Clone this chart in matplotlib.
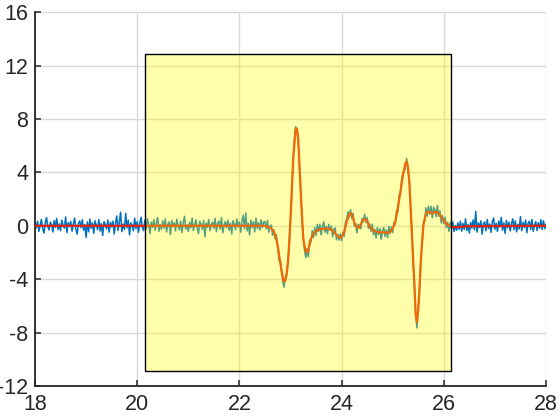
import numpy as np
import matplotlib
matplotlib.use("Agg")
import matplotlib.pyplot as plt
from matplotlib.patches import Rectangle

# ---------------- data ----------------
x_start, x_step = 18.0, 0.025   # raw sample times: 18.000 ... 28.000

raw_pre = [
    0.21,-0.15,0.34,-0.42,0.05,0.48,-0.22,-0.55,0.18,0.62,-0.08,-0.31,0.27,0.09,-0.46,0.39,-0.12,0.55,-0.28,0.14,
    -0.37,0.42,0.03,-0.19,0.66,-0.51,0.24,-0.06,0.33,-0.41,0.12,0.58,-0.25,-0.63,0.17,0.36,-0.14,0.45,-0.33,0.08,
    -0.88,0.29,-0.45,0.51,-0.18,0.22,-0.57,0.38,0.04,-0.29,0.47,-0.39,0.16,-0.72,0.31,0.11,-0.24,0.43,-0.48,0.26,
    -0.09,0.35,-0.61,0.19,0.74,-0.35,0.28,1.02,-0.44,0.13,-0.27,0.93,-0.16,0.41,-0.68,0.22,0.05,-0.38,0.57,-0.21,
    0.31,-0.49,0.16,0.64,-0.11,-0.36,0.42,-0.23,0.53,0.07,-0.58,0.27,-0.13,0.46,-0.34,0.19,0.61,-0.42,0.08,-0.26,
    0.37,-0.18,0.52,-0.47,0.12,0.29,-0.66,0.41,-0.07,0.23,-0.39,0.49,0.02,-0.31,0.34,-0.52,0.18,0.71,-0.24,0.06,
    -0.43,0.26,-0.15,0.58,-0.36,0.11,0.44,-0.21,-0.59,0.33,0.14,-0.28,0.39,-0.82,0.21,-0.12,0.47,-0.37,0.09,0.28,
    -0.19,0.55,-0.44,0.17,0.36,-0.25,0.62,-0.53,0.04,0.31,-0.16,0.43,-0.34,0.22,-0.61,0.38,0.13,-0.29,0.51,-0.09,
    0.27,-0.48,0.35,0.79,-0.22,0.96,-0.38,0.18,-0.69,0.42,-0.14,0.31,-0.46,0.57,-0.20,0.24,-0.33,0.45,-0.12,0.29,
]
raw_event = [
    0.31,-0.24,0.40,-0.48,-0.03,0.05,-0.71,-0.30,-0.99,-0.69,-1.65,-2.62,-2.58,-3.31,-4.23,-4.60,-3.85,-3.73,-2.49,-1.51,
    0.74,2.29,4.98,6.39,7.42,7.13,6.83,4.39,2.76,0.56,-0.81,-1.87,-2.38,-1.72,-2.32,-1.06,-1.19,-0.37,-0.87,-0.14,
    -0.72,0.10,-0.42,0.11,-0.69,-0.02,0.30,-0.49,-0.04,-0.60,0.11,-0.34,-0.03,-0.83,-0.26,-0.16,-1.05,-0.66,-1.08,-0.61,
    -1.12,-0.50,-0.79,0.23,0.52,1.05,0.66,1.21,0.54,0.93,-0.02,0.16,-0.53,0.12,-0.02,-0.23,0.54,0.29,0.87,0.24,
    0.63,-0.21,0.14,-0.42,0.12,-0.67,-0.27,-0.90,-0.14,-0.66,-0.22,-1.01,-0.39,-0.13,-0.80,-0.30,-0.90,-0.06,-0.58,-0.08,
    -0.51,0.25,0.12,1.15,1.04,2.31,2.38,3.44,3.98,4.03,4.39,5.04,4.05,3.49,1.22,-0.27,-2.76,-4.29,-6.78,-7.65,
    -5.99,-4.94,-2.43,-1.56,0.22,0.31,1.35,0.72,1.46,0.87,1.46,0.59,1.39,1.21,0.68,1.52,0.71,1.11,0.21,0.76,
    0.16,0.63,-0.14,0.25,-0.41,0.23,-0.23,0.29,-0.43,0.02,-0.34,0.22,-0.27,
]
raw_post = [
    0.34,-0.41,0.18,-0.27,0.52,-0.36,0.09,-0.55,0.26,-0.18,0.44,-0.31,1.08,-0.48,0.21,-0.12,0.37,-0.62,0.15,0.29,
    -0.38,0.47,-0.21,0.13,-0.49,0.31,0.58,-0.26,0.19,-0.43,0.36,-0.08,0.63,-0.34,0.22,-0.57,0.41,-0.15,0.27,-0.39,
    0.16,0.52,-0.29,0.38,-0.46,0.11,-0.24,0.69,-0.37,0.25,-0.13,0.43,-0.52,0.20,0.34,-0.28,0.47,-0.41,0.06,0.31,
    -0.35,0.24,-0.18,0.45,-0.27,0.38,-0.22,0.12,
]
raw_y = raw_pre + raw_event + raw_post

# smoothed curve: flat ends + event samples (22.5 ... 26.3 every 0.025)
smooth_pre_x, smooth_pre_y = [18.0], [0.0]
smooth_evt_start = 22.5
smooth_evt_y = [
    0.00,-0.02,-0.05,-0.10,-0.15,-0.22,-0.30,-0.48,-0.70,-1.05,-1.50,-2.15,-2.80,-3.40,-3.90,-4.18,-4.10,-3.55,-2.80,-1.25,
    0.50,2.60,4.80,6.10,7.20,7.28,6.50,4.60,2.50,0.70,-1.00,-1.50,-1.90,-2.00,-1.80,-1.40,-1.00,-0.78,-0.60,-0.50,
    -0.40,-0.35,-0.30,-0.27,-0.25,-0.23,-0.22,-0.21,-0.20,-0.21,-0.22,-0.26,-0.30,-0.37,-0.45,-0.57,-0.70,-0.78,-0.85,-0.90,
    -0.85,-0.68,-0.45,-0.08,0.30,0.58,0.85,0.95,0.85,0.55,0.20,0.02,-0.12,-0.17,-0.10,0.10,0.30,0.45,0.52,0.45,
    0.35,0.15,-0.05,-0.18,-0.30,-0.36,-0.42,-0.45,-0.47,-0.48,-0.48,-0.49,-0.50,-0.50,-0.51,-0.51,-0.52,-0.50,-0.45,-0.33,
    -0.20,0.03,0.30,0.80,1.30,1.90,2.50,3.15,3.80,4.25,4.70,4.80,4.40,3.30,1.50,-0.60,-2.50,-4.50,-6.60,-7.20,
    -6.30,-4.70,-2.70,-1.20,0.00,0.50,0.90,1.00,1.10,1.02,0.95,0.92,0.97,1.03,1.05,1.03,0.92,0.80,0.65,0.50,
    0.38,0.28,0.15,0.07,0.00,-0.04,-0.07,-0.09,-0.10,-0.10,-0.09,-0.09,-0.08,
]
smooth_post_x, smooth_post_y = [26.5, 28.0], [-0.03, 0.0]

box_x = [20.15, 26.15]
box_y = [-10.85, 12.85]

xticks = [18, 20, 22, 24, 26, 28]
yticks = [-12, -8, -4, 0, 4, 8, 12, 16]

# ---------------- plot ----------------
plt.rcParams['font.family'] = ['Liberation Sans', 'DejaVu Sans']
plt.rcParams['axes.unicode_minus'] = False

fig = plt.figure(figsize=(5.6, 4.2), dpi=100)
ax = fig.add_axes([0.0625, 0.081, 0.9125, 0.890])

raw_x = x_start + x_step * np.arange(len(raw_y))
smooth_x = np.concatenate([smooth_pre_x,
                           smooth_evt_start + x_step * np.arange(len(smooth_evt_y)),
                           smooth_post_x])
smooth_y = np.concatenate([smooth_pre_y, smooth_evt_y, smooth_post_y])

ax.plot(raw_x, raw_y, color=(0, 0.447, 0.741), lw=1.1, zorder=2)
ax.plot(smooth_x, smooth_y, color='#e8200e', lw=1.6, zorder=3)
ax.add_patch(Rectangle((box_x[0], box_y[0]), box_x[1] - box_x[0], box_y[1] - box_y[0],
                       facecolor=(1, 1, 0, 0.33), edgecolor='black', lw=1.0, zorder=4))

ax.set_xlim(18, 28)
ax.set_ylim(-12, 16)
ax.set_xticks(xticks)
ax.set_yticks(yticks)
ax.grid(True, color='#d9d9d9', lw=1.0, zorder=0)
ax.set_axisbelow(True)
for s in ['top', 'right']:
    ax.spines[s].set_visible(False)
for s in ['left', 'bottom']:
    ax.spines[s].set_color('#262626')
    ax.spines[s].set_linewidth(1.3)
ax.tick_params(direction='in', length=4, width=1.1, color='#262626',
               labelsize=15.5, labelcolor='#262626')
ax.tick_params(axis='y', pad=5)
ax.tick_params(axis='x', pad=6)

fig.savefig('out.png', dpi=100)
